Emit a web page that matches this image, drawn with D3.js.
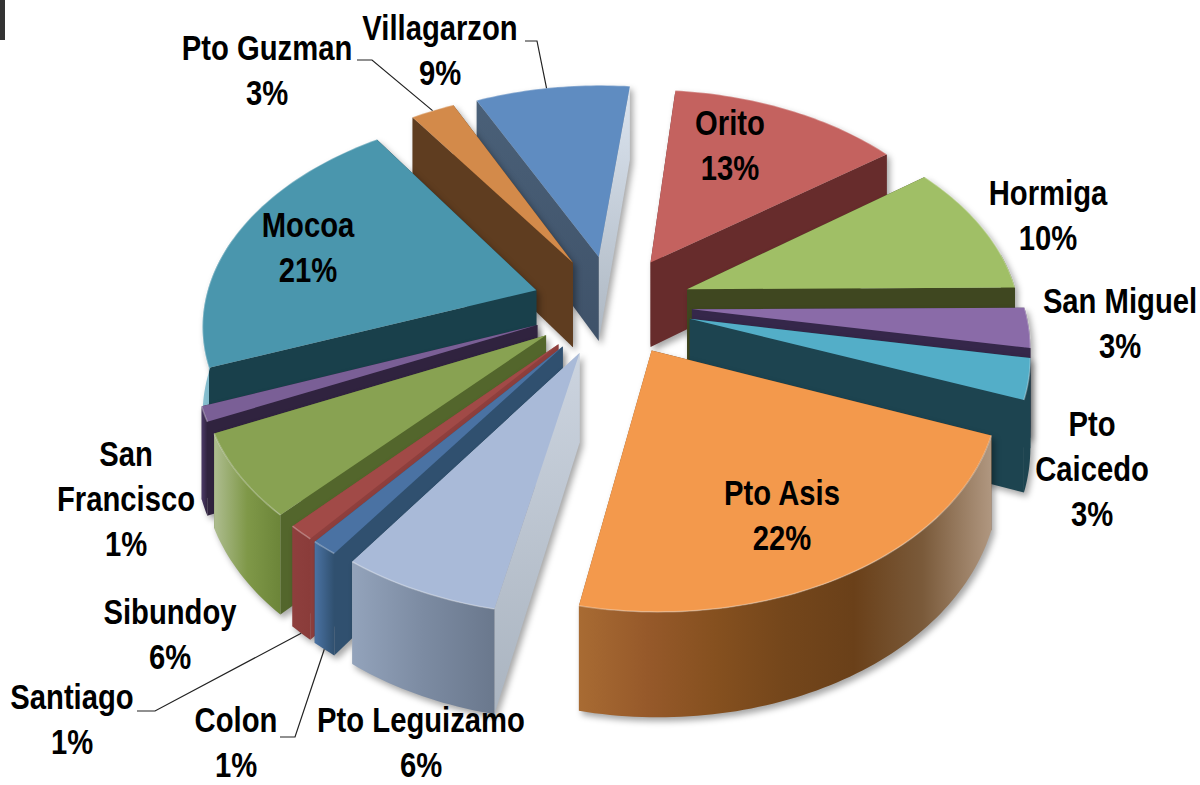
<!DOCTYPE html>
<html>
<head>
<meta charset="utf-8">
<script src="https://cdn.jsdelivr.net/npm/d3@7"></script>
<style>
  html, body { margin: 0; padding: 0; background: #fff; }
  text { font-family: "Liberation Sans", Arial, sans-serif; font-weight: bold; fill: #000; }
</style>
</head>
<body>
<svg id="chart" width="1200" height="785"></svg>
<script>
// Municipality shares, clockwise from the top of the pie
// (slice sizes, labels carry the rounded numbers)
const names = ['Orito', 'Hormiga', 'San Miguel', 'Pto Caicedo', 'Pto Asis', 'Pto Leguizamo', 'Colon',
    'Santiago', 'Sibundoy', 'San Francisco', 'Mocoa', 'Pto Guzman', 'Villagarzon'];
const shares = [13.2, 10, 3, 3, 22.3, 6.48, 1.1, 1.1, 6.2, 1.1, 21.2, 2.5, 8.8];

const topColors = ['#c4625f', '#a0bf66', '#8a6ba8', '#53aec8', '#f3994c', '#a9bad8', '#4a72a3',
    '#a14a47', '#88a252', '#7a5f96', '#4a96ad', '#d38a4a', '#5f8cc1'];
const startWall = [['#672c2c', '#672c2c'], ['#3f4720', '#3f4720'], ['#35274a', '#35274a'], ['#1d4450', '#1d4450'],
    ['#6b3d16', '#6b3d16'], ['#ccd4df', '#aab4c0'], ['#30506f', '#30506f'], ['#8e3f3d', '#8e3f3d'],
    ['#53662c', '#53662c'], ['#30233f', '#30233f'], ['#19404b', '#19404b'], ['#5f3d20', '#5f3d20'],
    ['#4a6078', '#3f5269']];
const endWall = [['#672c2c', '#672c2c'], ['#3f4720', '#3f4720'], ['#35274a', '#35274a'], ['#1d4450', '#1d4450'],
    ['#8a5324', '#8a5324'], ['#ccd4df', '#aab4c0'], ['#30506f', '#30506f'], ['#8e3f3d', '#8e3f3d'],
    ['#53662c', '#53662c'], ['#30233f', '#30233f'], ['#19404b', '#19404b'], ['#5f3d20', '#5f3d20'],
    ['#dbe4ef', '#adb7c2']];
const rimStops = [
    ['#8e3f3d', '#672c2c'], ['#3f4720', '#3f4720'], ['#35274a', '#35274a'], ['#1d4450', '#1d4450'],
    ['#a86b33', '#96592a', '#85501f', '#74461b', '#6a4019', '#7a5a3a', '#b09780'],
    ['#93a3bb', '#7c8ba2', '#6a788d'], ['#4a72a3', '#30506f'],
    ['#8e3f3d', '#8a3c3a'], ['#aebd90', '#7f9848', '#6c8539'], ['#4c3a68', '#30233f'],
    ['#8cc2d2', '#4a96ad'], ['#d38a4a', '#5f3d20'], ['#5f8cc1', '#44566e']
];

const labelLines = [['Orito', '13%'], ['Hormiga', '10%'], ['San Miguel', '3%'], ['Pto', 'Caicedo', '3%'],
    ['Pto Asis', '22%'], ['Pto Leguizamo', '6%'], ['Colon', '1%'], ['Santiago', '1%'], ['Sibundoy', '6%'],
    ['San', 'Francisco', '1%'], ['Mocoa', '21%'], ['Pto Guzman', '3%'], ['Villagarzon', '9%']];

// layout
const cx = 612, cy = 305;
const radius = 332, explode = 80, depth = 87;
const tilt = 0.63, persp = 0.144;
const firstAngle = 6 * Math.PI / 180;
const labelAt = {
    'Orito': [730, 135], 'Hormiga': [1048, 205], 'San Miguel': [1120, 313], 'Pto Caicedo': [1092, 436],
    'Pto Asis': [782, 505], 'Pto Leguizamo': [421, 732], 'Colon': [236, 732], 'Santiago': [72, 709],
    'Sibundoy': [170, 624], 'San Francisco': [126, 466], 'Mocoa': [308, 237], 'Pto Guzman': [267, 60],
    'Villagarzon': [440, 40]
};

const svg = d3.select('#chart');
const defs = svg.append('defs');

// corner artefact of the original screenshot
svg.append('rect').attr('width', 5).attr('height', 40).attr('fill', '#333');

// x right, y away from viewer, z up. Returns screen point
function project(x, y, z) {
    const f = 1 / (1 + persp * y / radius);
    return [cx + x * f, cy - y * tilt * f - z * f];
}

const arcs = d3.pie().sort(null).startAngle(firstAngle).endAngle(firstAngle + 2 * Math.PI)(shares);

const slices = arcs.map((a, i) => {
    const mid = (a.startAngle + a.endAngle) / 2;
    return {
        i, name: names[i], a0: a.startAngle, a1: a.endAngle, mid,
        ox: explode * Math.sin(mid), oy: explode * Math.cos(mid)
    };
});

function rimPoint(s, ang, z) {
    return project(s.ox + radius * Math.sin(ang), s.oy + radius * Math.cos(ang), z);
}
function apex(s, z) {
    return project(s.ox, s.oy, z);
}
function angles(a0, a1) {
    const n = Math.max(2, Math.ceil((a1 - a0) / 0.02));
    return d3.range(n + 1).map(k => a0 + (a1 - a0) * k / n);
}

const line = d3.line();
const closed = pts => line(pts) + 'Z';

function addGradient(id, stops, vertical) {
    const grad = defs.append('linearGradient').attr('id', id);
    if (vertical) grad.attr('x2', 0).attr('y2', 1);
    stops.forEach((c, k) => {
        grad.append('stop').attr('offset', k / (stops.length - 1)).attr('stop-color', c);
    });
    return `url(#${id})`;
}

// paint back to front
const order = slices.slice().sort((p, q) => q.oy - p.oy);

order.forEach(s => {
    const g = svg.append('g')
        .style('filter', 'drop-shadow(3px 4px 3px rgba(0,0,0,0.35))');

    // radial walls
    g.append('path')
        .attr('d', closed([apex(s, 0), rimPoint(s, s.a1, 0), rimPoint(s, s.a1, -depth), apex(s, -depth)]))
        .attr('fill', addGradient('end' + s.i, endWall[s.i], true));
    g.append('path')
        .attr('d', closed([apex(s, 0), rimPoint(s, s.a0, 0), rimPoint(s, s.a0, -depth), apex(s, -depth)]))
        .attr('fill', addGradient('start' + s.i, startWall[s.i], true));

    // outer wall, front part only
    const lo = Math.max(s.a0, 80 * Math.PI / 180), hi = Math.min(s.a1, 285 * Math.PI / 180);
    if (hi > lo) {
        const as = angles(lo, hi);
        const pts = as.map(t => rimPoint(s, t, 0)).concat(as.slice().reverse().map(t => rimPoint(s, t, -depth)));
        g.append('path').attr('d', closed(pts)).attr('fill', addGradient('rim' + s.i, rimStops[s.i], false));
    }

    // top face
    const arcPts = angles(s.a0, s.a1).map(t => rimPoint(s, t, 0));
    g.append('path')
        .attr('d', closed([apex(s, 0)].concat(arcPts)))
        .attr('fill', topColors[s.i]);
    g.append('path')
        .attr('d', line(arcPts))
        .attr('fill', 'none')
        .attr('stroke', '#fff')
        .attr('stroke-opacity', 0.3)
        .attr('stroke-width', 1.5);
});

// leader lines, elbow next to the label then down to the slice
function leader(elbowFrom, elbowTo, target) {
    svg.append('path')
        .attr('d', line([elbowFrom, elbowTo, target]))
        .attr('fill', 'none')
        .attr('stroke', '#222')
        .attr('stroke-width', 1.2);
}
const byName = n => slices[names.indexOf(n)];
leader([525, 41], [537, 41], rimPoint(byName('Villagarzon'), byName('Villagarzon').mid - 0.02, 0));
leader([357, 60], [372, 60], rimPoint(byName('Pto Guzman'), byName('Pto Guzman').mid, 0));
leader([137, 711], [155, 711], rimPoint(byName('Santiago'), byName('Santiago').mid, -depth));
leader([280, 737], [295, 737], rimPoint(byName('Colon'), byName('Colon').mid, -depth));

// labels
const lineGap = 45;
const labelSize = 35, labelSqueeze = 0.835;
names.forEach((n, i) => {
    const [x, y] = labelAt[n];
    labelLines[i].forEach((t, k) => {
        svg.append('text')
            .attr('transform', `translate(${x},${y + k * lineGap}) scale(${labelSqueeze},1)`)
            .attr('text-anchor', 'middle')
            .attr('font-size', labelSize)
            .text(t);
    });
});
</script>
</body>
</html>
